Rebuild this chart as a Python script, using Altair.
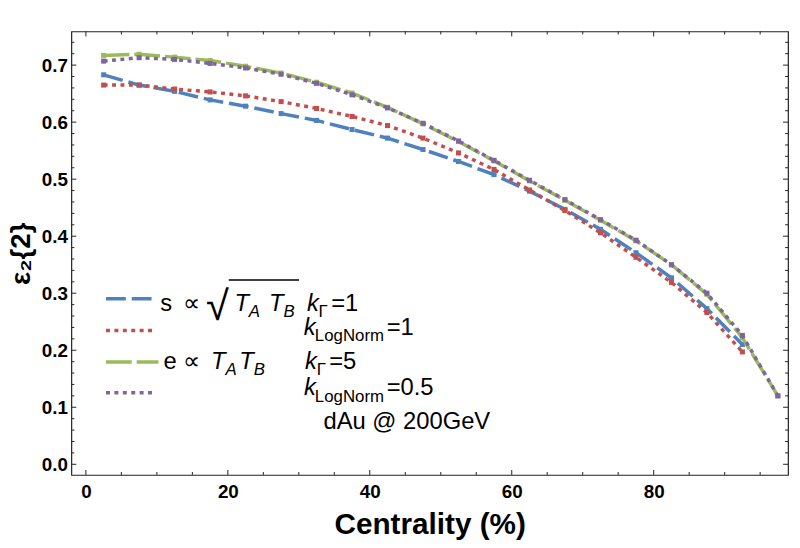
import altair as alt
import pandas as pd

# ---- data ----
centrality = [2.5, 7.5, 12.5, 17.5, 22.5, 27.5, 32.5, 37.5, 42.5, 47.5,
              52.5, 57.5, 62.5, 67.5, 72.5, 77.5, 82.5, 87.5, 92.5, 97.5]

s_kgamma1 = [0.683, 0.665, 0.654, 0.639, 0.628, 0.615, 0.603, 0.587, 0.572, 0.552,
             0.531, 0.508, 0.479, 0.447, 0.412, 0.371, 0.327, 0.273, 0.210]
s_klognorm1 = [0.665, 0.665, 0.658, 0.653, 0.646, 0.636, 0.624, 0.610, 0.594, 0.572,
               0.546, 0.517, 0.481, 0.445, 0.406, 0.363, 0.319, 0.266, 0.197]
e_kgamma5 = [0.717, 0.719, 0.714, 0.708, 0.698, 0.686, 0.670, 0.651, 0.626, 0.597,
             0.566, 0.532, 0.497, 0.463, 0.428, 0.392, 0.350, 0.298, 0.222, 0.120]
e_klognorm05 = [0.707, 0.713, 0.710, 0.703, 0.695, 0.684, 0.668, 0.648, 0.625, 0.598,
                0.567, 0.533, 0.498, 0.464, 0.429, 0.393, 0.350, 0.300, 0.226, 0.120]

x_major = [0, 20, 40, 60, 80]
x_minor = [5, 10, 15, 25, 30, 35, 45, 50, 55, 65, 70, 75, 85, 90, 95]
y_major = [0.0, 0.1, 0.2, 0.3, 0.4, 0.5, 0.6, 0.7]
y_minor = [0.02, 0.04, 0.06, 0.08, 0.12, 0.14, 0.16, 0.18, 0.22, 0.24, 0.26, 0.28,
           0.32, 0.34, 0.36, 0.38, 0.42, 0.44, 0.46, 0.48, 0.52, 0.54, 0.56, 0.58,
           0.62, 0.64, 0.66, 0.68, 0.72, 0.74]

W, H = 724, 448
FONT = "Liberation Sans"
FRAME = "#222222"

x_scale = alt.Scale(domain=[-2.05, 98.93], nice=False, zero=False)
y_scale = alt.Scale(domain=[-0.0187, 0.759], nice=False, zero=False)

x_axis = alt.Axis(values=x_major, title="Centrality (%)", ticks=False, domain=False,
                  grid=False, labelPadding=8, titlePadding=8)
y_axis = alt.Axis(values=y_major, format=".1f", title="ε₂{2}", ticks=False, domain=False,
                  grid=False, labelPadding=4, titleFontSize=28, titleAngle=270,
                  titleX=-36, titleY=H / 2, titleAlign="center", titleBaseline="bottom")

def X(f):
    return alt.X(f, scale=x_scale, axis=x_axis)

def Y(f):
    return alt.Y(f, scale=y_scale, axis=y_axis)

series = [
    (s_kgamma1, "#4F81BD", [20, 6]),
    (s_klognorm1, "#C0504D", [4, 4.5]),
    (e_kgamma5, "#9BBB59", [26, 5]),
    (e_klognorm05, "#8064A2", [4, 4.5]),
]

layers = []
for vals, col, dash in series:
    df = pd.DataFrame({"c": centrality[:len(vals)], "v": vals})
    line = alt.Chart(df).mark_line(color=col, strokeWidth=3.5, strokeDash=dash,
                                   strokeCap="butt").encode(x=X("c:Q"), y=Y("v:Q"))
    pts = alt.Chart(df).mark_square(color=col, size=26, opacity=1).encode(
        x=X("c:Q"), y=Y("v:Q"))
    layers += [line, pts]

# ---- inward frame ticks ----
def xticks(vals, L):
    d = pd.DataFrame({"c": vals})
    b = alt.Chart(d).mark_rule(color=FRAME, strokeWidth=1).encode(
        x=X("c:Q"), y=alt.value(H), y2=alt.value(H - L))
    t = alt.Chart(d).mark_rule(color=FRAME, strokeWidth=1).encode(
        x=X("c:Q"), y=alt.value(0), y2=alt.value(L))
    return [b, t]

def yticks(vals, L):
    d = pd.DataFrame({"v": vals})
    l = alt.Chart(d).mark_rule(color=FRAME, strokeWidth=1).encode(
        y=Y("v:Q"), x=alt.value(0), x2=alt.value(L))
    r = alt.Chart(d).mark_rule(color=FRAME, strokeWidth=1).encode(
        y=Y("v:Q"), x=alt.value(W), x2=alt.value(W - L))
    return [l, r]

layers += xticks(x_major, 5) + xticks(x_minor, 3) + yticks(y_major, 5) + yticks(y_minor, 3)

# ---- manual legend ----
one = alt.Data(values=[{}])
FS, SS = 24, 17

def txt(s, x, y, size=FS, italic=False):
    return alt.Chart(one).mark_text(text=s, align="left", baseline="alphabetic", font=FONT,
                                    fontSize=size, fontStyle="italic" if italic else "normal",
                                    color="black").encode(x=alt.value(x), y=alt.value(y))

def seg(x1, x2, y, col, dash):
    return alt.Chart(one).mark_rule(color=col, strokeWidth=3.5, strokeDash=dash,
                                    strokeCap="butt").encode(
        x=alt.value(x1), x2=alt.value(x2), y=alt.value(y))

layers += [
    seg(35, 83, 270, "#4F81BD", [20, 6]),
    seg(35, 83, 302, "#C0504D", [4, 4.5]),
    seg(35, 88, 334, "#9BBB59", [26, 5]),
    seg(35, 83, 365, "#8064A2", [4, 4.5]),
    # row 1
    txt("s", 89.7, 282.7), txt("∝", 113, 282.7),
    txt("√", 136, 291, size=42),
    alt.Chart(one).mark_rule(color="black", strokeWidth=1.5).encode(
        x=alt.value(159), x2=alt.value(230), y=alt.value(251)),
    txt("T", 164.7, 282.7, italic=True), txt("A", 179.2, 288.7, size=SS, italic=True),
    txt("T", 199.7, 282.7, italic=True), txt("B", 214.2, 288.7, size=SS, italic=True),
    txt("k", 238, 282.7, italic=True), txt("Γ", 249.7, 288.7, size=SS), txt("=1", 262.5, 282.7),
    # row 2
    txt("k", 234.7, 306.7, italic=True), txt("LogNorm", 246, 312.7, size=SS),
    txt("=1", 318.5, 306.7),
    # row 3
    txt("e", 93, 340.7), txt("∝", 113, 340.7),
    txt("T", 141, 340.7, italic=True), txt("A", 155.8, 346.7, size=SS, italic=True),
    txt("T", 169.7, 340.7, italic=True), txt("B", 184.2, 346.7, size=SS, italic=True),
    txt("k", 236, 340.7, italic=True), txt("Γ", 248, 346.7, size=SS), txt("=5", 260.5, 340.7),
    # row 4
    txt("k", 235, 367.7, italic=True), txt("LogNorm", 246, 374, size=SS),
    txt("=0.5", 318.5, 367.7),
    # row 5
    txt("dAu @ 200GeV", 254.7, 401.7),
]

chart = alt.layer(*layers).properties(
    width=W, height=H,
    autosize=alt.AutoSizeParams(type="none"),
    padding={"left": 64, "top": 21, "right": 4, "bottom": 63},
    background="white",
).configure_view(
    stroke=FRAME, strokeWidth=1.2
).configure_axis(
    labelFont=FONT, labelFontSize=19, labelFontWeight="bold", labelColor="black",
    titleFont=FONT, titleFontSize=30, titleFontWeight="bold", titleColor="black",
)

chart.save("out.html", embed_options={"renderer": "svg", "actions": False})
